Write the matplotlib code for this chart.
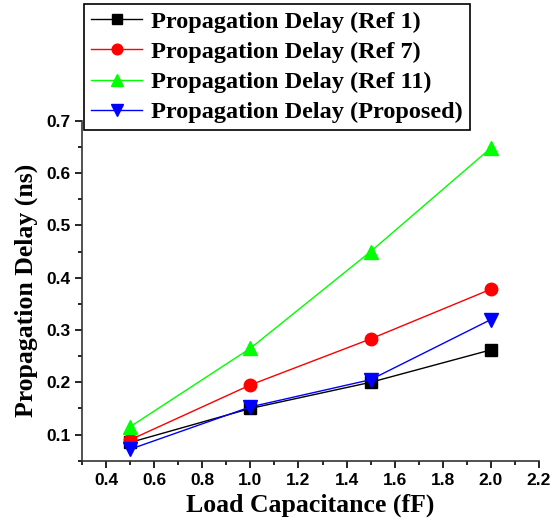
import matplotlib
matplotlib.use("Agg")
from matplotlib import pyplot as plt
from matplotlib.ticker import MultipleLocator

load_cap = [0.5, 1.0, 1.5, 2.0]
ref1 = [0.085, 0.150, 0.200, 0.262]
ref7 = [0.090, 0.195, 0.283, 0.378]
ref11 = [0.115, 0.265, 0.450, 0.648]
proposed = [0.072, 0.153, 0.205, 0.320]

labels = ["Propagation Delay (Ref 1)", "Propagation Delay (Ref 7)",
          "Propagation Delay (Ref 11)", "Propagation Delay (Proposed)"]

fig = plt.figure(figsize=(5.52, 5.23), dpi=100)
ax = fig.add_axes([0.1486, 0.119, 0.8278, 0.650])

ax.plot(load_cap, ref1, color="black", marker="s", markersize=8, lw=1, label=labels[0])
ax.plot(load_cap, ref7, color="red", marker="o", markersize=9, lw=1, label=labels[1])
ax.plot(load_cap, ref11, color="#00ff00", marker="^", markersize=10, lw=1, label=labels[2])
ax.plot(load_cap, proposed, color="blue", marker="v", markersize=10, lw=1, label=labels[3])

ax.set_xlim(0.3, 2.2)
ax.set_ylim(0.05, 0.7)
ax.xaxis.set_major_locator(MultipleLocator(0.2))
ax.xaxis.set_minor_locator(MultipleLocator(0.1))
ax.yaxis.set_major_locator(MultipleLocator(0.1))
ax.yaxis.set_minor_locator(MultipleLocator(0.05))
ax.tick_params(which="both", direction="out", width=1.2)
ax.tick_params(which="major", length=5)
ax.tick_params(which="minor", length=3)

for side in ["top", "right"]:
    ax.spines[side].set_visible(False)
for side in ["left", "bottom"]:
    ax.spines[side].set_linewidth(1.2)
    ax.spines[side].set_color("#333333")

for lab in ax.get_xticklabels() + ax.get_yticklabels():
    lab.set_fontfamily("Liberation Sans")
    lab.set_fontweight("bold")
    lab.set_fontsize(12.5)

ax.set_xlabel("Load Capacitance (fF)", family="Liberation Serif", weight="bold", fontsize=18.5, labelpad=4)
ax.set_ylabel("Propagation Delay (ns)", family="Liberation Serif", weight="bold", fontsize=18.5, labelpad=6)

leg = fig.legend(loc="upper left", bbox_to_anchor=(0.152, 0.993), bbox_transform=fig.transFigure,
                 borderaxespad=0, fancybox=False, edgecolor="black", framealpha=1,
                 prop={"family": "Liberation Serif", "weight": "bold", "size": 17.5},
                 handlelength=2.1, labelspacing=0.33, borderpad=0.3, handletextpad=0.35,
                 markerscale=0.85)
leg.get_frame().set_linewidth(1.2)

fig.savefig("out.png", dpi=100)
